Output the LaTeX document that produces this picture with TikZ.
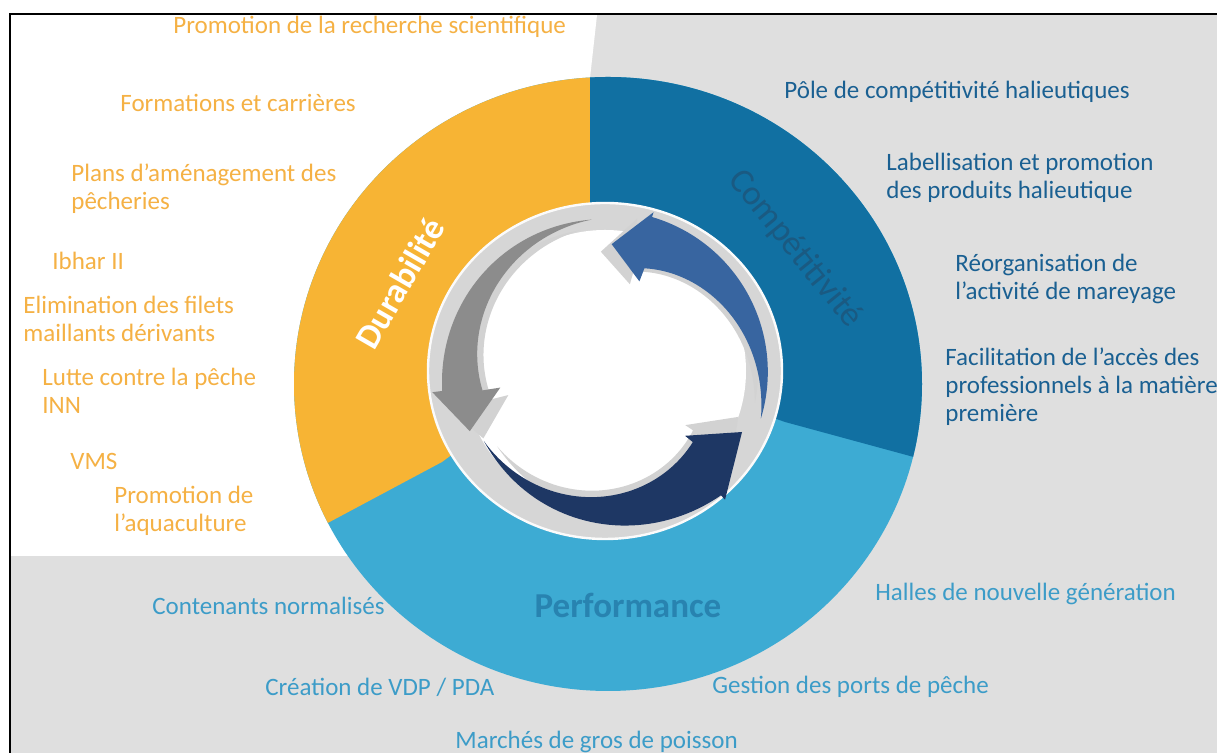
\documentclass[tikz,border=0pt]{standalone}
\usepackage{fontspec}
\setmainfont{Carlito}

\definecolor{bggray}{RGB}{223,223,223}
\definecolor{ringorange}{RGB}{247,180,52}
\definecolor{ringdark}{RGB}{17,112,162}
\definecolor{ringlight}{RGB}{61,171,211}
\definecolor{bandgray}{RGB}{214,214,214}
\definecolor{shadegray}{RGB}{210,210,210}
\definecolor{arrgray}{RGB}{140,140,140}
\definecolor{arrnavy}{RGB}{30,55,100}
\definecolor{arrblue}{RGB}{56,101,160}
\definecolor{txtorange}{RGB}{245,177,68}
\definecolor{txtdark}{RGB}{26,96,146}
\definecolor{txtlight}{RGB}{60,156,200}
\definecolor{lblcomp}{RGB}{26,90,130}
\definecolor{lblperf}{RGB}{40,131,176}

% curved cycle arrow around the origin:
% #1 tail angle, #2 tail radius, #3/#4 outer edge end angle/radius,
% #5/#6 inner edge end angle/radius, #7 outer barb radius,
% #8 inner barb radius, #9 tip (angle:radius)
\newcommand\cyclearrow[9]{%
  \fill[arrowfill] plot[domain=#1:#3, samples=48, variable=\t]
      (\t:{#2+(#4-(#2))*((\t-(#1))/(#3-(#1)))*sqrt(abs((\t-(#1))/(#3-(#1))))})
    -- (#3:#7) -- (#9) -- (#5:#8) -- (#5:#6)
    -- plot[domain=#5:#1, samples=48, variable=\t]
      (\t:{#6+(#2-(#6))*(\t-(#5))/(#1-(#5))}) -- cycle;}

\tikzset{
  item/.style={anchor=west, inner sep=0pt, align=left,
    font=\fontsize{12.5}{14}\selectfont},
  itemorange/.style={item, text=txtorange},
  itemdark/.style={item, text=txtdark},
  itemlight/.style={item, text=txtlight},
  ringlabel/.style={inner sep=0pt, font=\fontsize{17.5}{20}\selectfont},
  arrowfill/.style={fill=black}
}

\begin{document}
\begin{tikzpicture}[x=0.5pt, y=0.5pt]
\useasboundingbox (0,0) rectangle (1217,753);

% background panels and frame
\fill[bggray] (10,0) rectangle (1217,739);
\fill[white] (11,738) -- (597,738) -- (590,675) -- (590,197) -- (11,197) -- cycle;
\draw[line width=1pt] (1217,739) -- (10,739) -- (10,0);

% outer ring in three sectors
\fill[ringlight] (608,369) ellipse [x radius=314, y radius=307];
\begin{scope}
  \clip (608,369) ellipse [x radius=314, y radius=307];
  \fill[ringorange] (590,800) -- (590,400) -- (442,291) -- (221,173)
    -- (0,173) -- (0,800) -- cycle;
  \fill[ringdark] (590,800) -- (590,400) -- (785,331) -- (1035,263)
    -- (1217,263) -- (1217,800) -- cycle;
\end{scope}

% inner disc
\filldraw[fill=bandgray, draw=white!90!bandgray, line width=1.2pt]
  (605,382) ellipse [x radius=177, y radius=168];
\fill[white] (605,382) circle (141);

% soft shadows of the cycle arrows
\begin{scope}[shift={(605,382)}, rotate=5, scale=0.94,
    arrowfill/.style={fill=shadegray}]
  \cyclearrow{95}{152}{187}{164}{189}{124}{174}{106}{204:148}
  \cyclearrow{210}{140}{313}{170}{321}{113}{176}{103}{336:150}
  \cyclearrow{-17}{163}{73}{161}{69}{110}{166}{96}{87:127}
\end{scope}

% cycle arrows
\begin{scope}[shift={(605,382)}]
  \begin{scope}[arrowfill/.style={fill=arrgray}]
    \cyclearrow{95}{152}{187}{164}{189}{124}{174}{106}{204:148}
  \end{scope}
  \begin{scope}[arrowfill/.style={fill=arrnavy}]
    \cyclearrow{210}{140}{313}{170}{321}{113}{176}{103}{336:150}
  \end{scope}
  \begin{scope}[arrowfill/.style={fill=arrblue}]
    \cyclearrow{-17}{163}{73}{161}{69}{110}{166}{96}{87:127}
  \end{scope}
\end{scope}

% sector titles
\node[ringlabel, text=white, font=\fontsize{17.5}{20}\selectfont\bfseries,
  rotate=60] (durabilite) at (400,470) {Durabilité};
\node[ringlabel, text=lblcomp, rotate=-51] (competitivite) at (795,504)
  {Compétitivité};
\node[ringlabel, text=lblperf, font=\fontsize{17.5}{20}\selectfont\bfseries]
  (performance) at (628,148) {Performance};

% sustainability actions
\node[itemorange] (rech) at (173,726) {Promotion de la recherche scientifique};
\node[itemorange] (form) at (120,650) {Formations et carrières};
\node[itemorange] (plans) at (71,564) {Plans d'aménagement des\\pêcheries};
\node[itemorange] (ibhar) at (52,492) {Ibhar II};
\node[itemorange] (filets) at (23,434) {Elimination des filets\\maillants dérivants};
\node[itemorange] (inn) at (42,362) {Lutte contre la pêche\\INN};
\node[itemorange] (vms) at (70,292) {VMS};
\node[itemorange] (aqua) at (114,242.5) {Promotion de\\l’aquaculture};

% competitiveness actions
\node[itemdark] (pole) at (784,661) {Pôle de compétitivité halieutiques};
\node[itemdark] (label) at (886,575.5) {Labellisation et promotion\\des produits halieutique};
\node[itemdark] (mareyage) at (955,474) {Réorganisation de\\l’activité de mareyage};
\node[itemdark] (acces) at (945,366.5)
  {Facilitation de l’accès des\\professionnels à la matière\\première};

% performance actions
\node[itemlight] (contenants) at (152,147) {Contenants normalisés};
\node[itemlight] (halles) at (875,159) {Halles de nouvelle génération};
\node[itemlight] (vdp) at (265,66) {Création de VDP / PDA};
\node[itemlight] (ports) at (712,66) {Gestion des ports de pêche};
\node[itemlight] (marches) at (455,11) {Marchés de gros de poisson};
\end{tikzpicture}
\end{document}
